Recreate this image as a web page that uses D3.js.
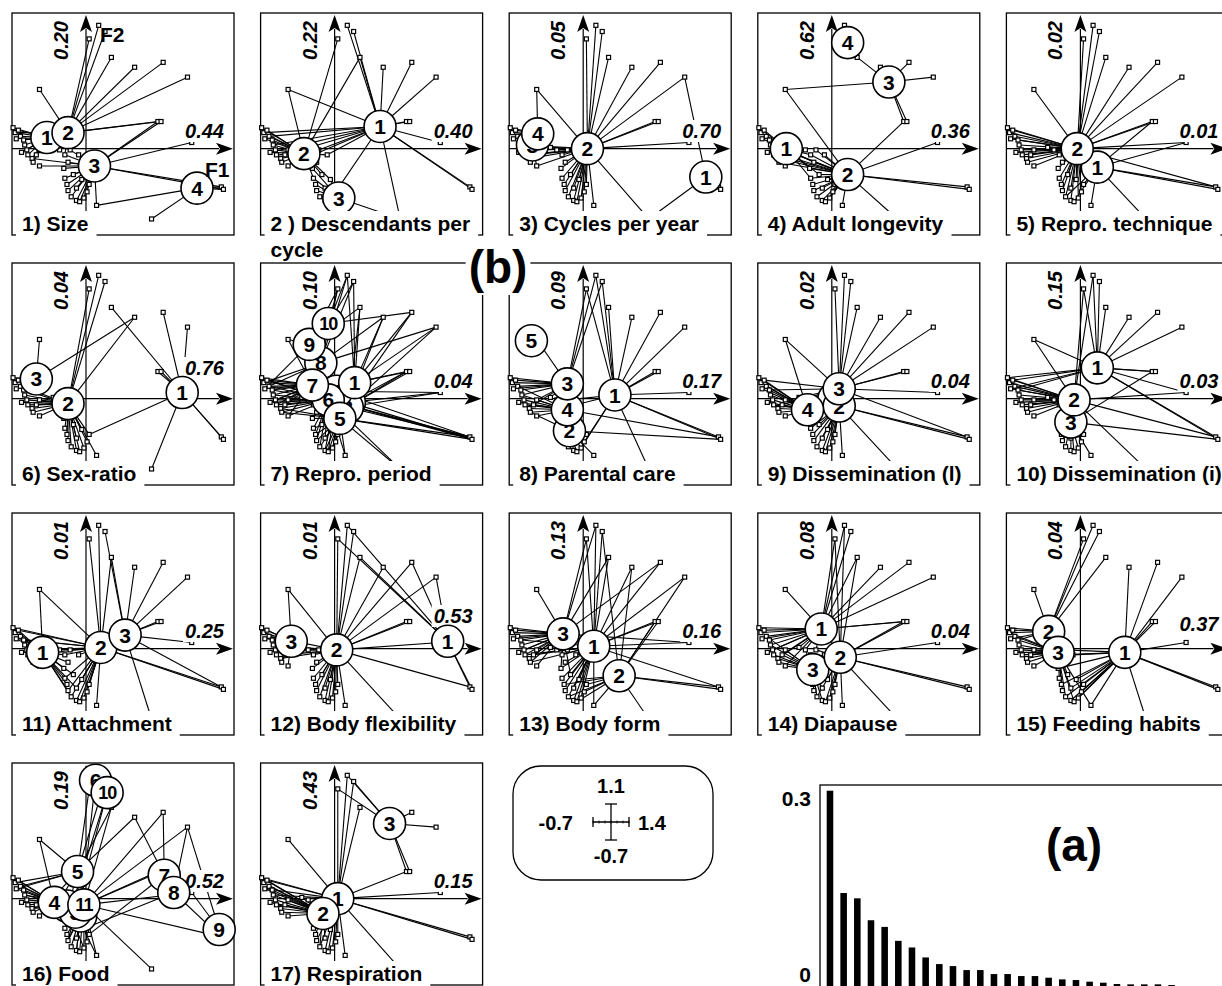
<!DOCTYPE html>
<html>
<head>
<meta charset="utf-8">
<title>Fuzzy correspondence analysis of biological traits</title>
<script src="https://cdn.jsdelivr.net/npm/d3@7/dist/d3.min.js"></script>
<style>
  html, body { margin: 0; padding: 0; background: #fff; }
  svg { display: block; }
  text { font-family: "Liberation Sans", Arial, Helvetica, sans-serif; fill: #000; }
</style>
</head>
<body>
<svg id="chart" width="1222" height="986"></svg>
<script>
// ---------------- DATA ----------------
// Taxa scores on F1 / F2 (same for every trait panel)
const taxaF1 = [0.03,0.12,0.18,0.24,0.46,0.73,0.96,-0.44,0.68,0.71,1.00,1.28,1.30,0.62,0.10,-0.44,
  -0.69,-0.67,-0.64,-0.62,-0.59,-0.58,-0.56,-0.55,-0.51,-0.50,-0.61,-0.66,-0.47,-0.44,
  -0.20,-0.17,-0.21,-0.20,-0.18,-0.17,-0.14,-0.09,-0.06,-0.02,0.01,0.03,-0.09,-0.04,-0.12,-0.15,-0.07,-0.25,-0.31];
const taxaF2 = [0.89,1.00,0.95,0.74,0.66,0.70,0.58,0.48,0.22,0.22,0.05,-0.31,-0.33,-0.57,-0.46,-0.14,
  0.17,0.13,0.15,0.10,0.07,0.03,-0.01,-0.05,-0.08,-0.11,-0.03,0.08,-0.05,-0.01,
  -0.05,-0.11,-0.16,-0.24,-0.29,-0.34,-0.39,-0.42,-0.43,-0.40,-0.35,-0.29,-0.32,-0.25,-0.21,-0.01,-0.05,-0.01,0.01];

const traitNames = ["1) Size", "2 ) Descendants per|cycle", "3) Cycles per year", "4) Adult longevity",
  "5) Repro. technique", "6) Sex-ratio", "7) Repro. period", "8) Parental care", "9) Dissemination (l)",
  "10) Dissemination (i)", "11) Attachment", "12) Body flexibility", "13) Body form", "14) Diapause",
  "15) Feeding habits", "16) Food", "17) Respiration"];
const eigF1 = ["0.44","0.40","0.70","0.36","0.01","0.76","0.04","0.17","0.04","0.03","0.25","0.53","0.16","0.04","0.37","0.52","0.15"];
const eigF2 = ["0.20","0.22","0.05","0.62","0.02","0.04","0.10","0.09","0.02","0.15","0.01","0.01","0.13","0.08","0.04","0.19","0.43"];

// Category centroids [label, F1, F2] (listed in drawing order)
const cats01 = [["1",-0.37,0.09],["2",-0.17,0.13],["3",0.08,-0.14],["4",1.05,-0.32]];
const cats02 = [["2",-0.29,-0.04],["3",0.04,-0.40],["1",0.43,0.18]];
const cats03 = [["3",-0.48,0.03],["4",-0.43,0.12],["2",0.04,0.0],["1",1.16,-0.23]];
const cats04 = [["1",-0.43,0.0],["2",0.15,-0.21],["3",0.54,0.54],["4",0.15,0.86]];
const cats05 = [["1",0.16,-0.15],["2",-0.03,0.0]];
const cats06 = [["3",-0.47,0.16],["2",-0.17,-0.04],["1",0.91,0.05]];
const cats07 = [["2",0.14,-0.03],["3",0.12,-0.07],["4",0.02,0.06],["6",-0.06,-0.01],["1",0.19,0.13],["5",0.05,-0.16],["8",-0.13,0.29],["7",-0.21,0.11],["9",-0.24,0.44],["10",-0.06,0.61]];
const cats08 = [["5",-0.49,0.47],["2",-0.13,-0.26],["4",-0.15,-0.09],["3",-0.15,0.12],["1",0.30,0.03]];
const cats09 = [["1",0.02,0.0],["2",0.07,-0.06],["4",-0.23,-0.09],["3",0.07,0.08]];
const cats10 = [["3",-0.09,-0.19],["2",-0.06,-0.01],["1",0.16,0.25]];
const cats11 = [["1",-0.41,-0.03],["2",0.14,0.01],["3",0.37,0.11]];
const cats12 = [["3",-0.41,0.06],["2",0.02,-0.01],["1",1.07,0.06]];
const cats13 = [["3",-0.19,0.12],["1",0.10,0.02],["2",0.34,-0.22]];
const cats14 = [["1",-0.10,0.16],["3",-0.18,-0.17],["2",0.08,-0.07]];
const cats15 = [["2",-0.30,0.14],["3",-0.21,-0.03],["1",0.42,-0.03]];
const cats16 = [["1",-0.05,-0.14],["2",-0.18,-0.06],["3",-0.10,-0.11],["4",-0.30,-0.03],["11",-0.02,-0.05],["5",-0.08,0.22],["6",0.09,0.96],["10",0.20,0.86],["7",0.74,0.19],["8",0.83,0.05],["9",1.26,-0.25]];
const cats17 = [["1",0.03,0.0],["2",-0.11,-0.12],["3",0.52,0.61]];

// Taxon -> category links, one token per taxon ("a+b" = several categories)
const links01 = "2 2 2 2 2 2 2 2 2+3 2+3 3 3+4 3+4 4 3+4 3 | 1 1+2 1 1 1+2 1 1 1 1+3 1 1 1 1+2 1+2 | 2+3 3 3 3 3 3 3 3 3 3 3 3 3 3 3 2+3 3 2 1+2";
const links02 = "2 1 1 1+2 1 1 1 1+2 1 1 1 1 1 1+3 3 2 | 2 2+1 2 2+1 2 2+1 2 2 2 2 2+1 2 2+1 2 | 2+1 2 2+3 2+3 3 3 3 3 3 3 3+1 3 3 2+3 2 2+1 2+1 2 2";
const links03 = "2 2 2 2 2 2 2+1 4+2 2 2 2 1 1 1+2 2 3+2 | 4 4 4 3+4 3 3+2 3 3+2 2 3 3 4 2 2 | 2 2 2 2 2 2 2 2 2 2 2 2 2 2 2 2 2 2 2+4";
const links04 = "4 4 4 4+3 3 3 3 3+2 3+2 3 2 2 2 2 2 1 | 1 1 1 1 1 1+2 1 1+2 1+2 1+2 1 1 1+2 1+2 | 2+1 2+1 2+1 2+1 2 2 2 2 2 2 2 2 2 2 2+1 2 2 1 1";
const links05 = "2 2 2 2 2 2 2 2 2+1 2 2+1 1+2 1 1 1 2 | 2 2 2 2 2 2 2 2 2 2 2 2 2 2 | 2 2 2 2 2 2 2+1 2 1 2 2 1 2 2 2 2 2 2 2";
const links06 = "2 2 2 1 2+3 1 1 3 1 1 1 1 1 1 2 2 | 3 3 3 3+2 2 2 2 2 2 2 2 3 2 2 | 2 2 2 2 2 2 2 2 2 2 2 2+1 2 2 2 2 2 2 2";
const links07 = "10+9+8 10+8+1 10+8+1 9+1+2 1+2+8 1+2+10 1+3+8 9+7 1+2+3 1+3 2+3+4 3+4+5+6 2+5+6 5+6 5+6 7+6 | 7+6 7+8 7+6 7+6+8 7+6 7+6 6+7 6+7 6+5 6+5 7+6 7+9 6+7 6+7 | 6+5 6+5 5+6 5+6 5+6 5+6 5+6 5+4 5+4 5+3 5+3 5+2 5+6 5+4 6+5 6+7 6+4 7+6 7+8";
const links08 = "3+1 3+1 3+1 1 1 1 1 5+3 1 1 1 1+4 1+2 1 2 4 | 3 3 3 3+4 3 3+4 4 4 4 4+2 4 3 4+3 4+3 | 4 4 2 2 2 2 2 2 2 2+1 2+1 2 2 2+4 2 4+1 4+1 4 3";
const links09 = "3 3 3 3 3 3 3 3+4 3 3 3 3+2 2 2 2 4 | 4 4 4+3 4 4+3 4 4 4 4 4 4 4 4+3 4 | 2 2 2+4 2 2 2 2 2 2 2 2 2 2 2 2 3+2 2+1 4+3 4+3";
const links10 = "1+2 1+2 1 1 1 1 1 1+2 1+3 1 1+2 1+2 1+3 2 3 2 | 2+1 2 2+1 2 2+1 2 2 2 2 2 2 2+1 2 2 | 2 3 3 3 3 3 3 3 3 3 3 3 3 3 3 2 2 2 2";
const links11 = "2 2 3 2+3 3 3 3 2+1 3 3 3 3+2 2 3 2 1 | 1+2 1 1+2 1 1+2 1 1 1+2 1 1 1 1+2 1 1+2 | 1+2 1 1 1+2 1 1+2 1+2 2 2 2 2 2 1+2 2 1 2 2 1+2 1";
const links12 = "2+1 2+1 2 2+1 2 2+1 2+1 3+2 2 2 1+2 1+2 1 2 2 3 | 3 3 3 3+2 3 3 3 3 3+2 3 3 3 3+2 3+2 | 2+3 2 2 2 2 2 2 2 2 2 2 2 2 2 2 2 2 2 2";
const links13 = "1+3 1+3 1+2 1+3 1+2 1+3 1+2 3 1+2 1+2 1+3 1+2 2 2 1+2 3 | 3 3 3 3 3+1 3 3 3+1 3 3+1 3 3 3+1 3 | 1+3 1 1+3 1 1+2 1 1+2 1 1+2 1 2 2 1 1+2 1+3 1+3 1 3 3";
const links14 = "1+2 1+2 1 1+2 1 1 1 1 1+2 1+2 2 2 2 2 2 1+3 | 1 1 1 1+3 1 1+3 1 3 1+3 3 1 1 1+3 3 | 2 3 3 3+2 3 3 3+2 3 2 2 2 2 3 2 3 1+2 2 1+3 1";
const links15 = "2 2 2 2 1 1 1 2 1 1 1 1 1 1 1+3 3 | 2 2+3 2 3 2+3 3 3 3 3 3 3 2 3 3 | 3+1 3 3+1 3 3+1 3 3+1 1 3+1 1 1 1 3+1 1 3 3+1 1 3 2";
const links16 = "6+5 6+10 10+5 10+5+11 5+7 7+11 8+9+11 5+4 11+7 11+8 11+9 9+11 9+8 11 11+3 4 | 4 4+5 4 4+5 4 4+11 4 4 4+11 4 4 4+5 4+11 4+11 | 11+3 11 3+11 1+11+10 11 1+11+10 11 1+6 11 11+2 11 11+7 11 11+8 3 11+5 11+5 4+5 4+5";
const links17 = "1+3 1+3 1+3 1 3 3 3 1 3+1 3 1 1 1 1 1 2 | 2+1 2 2+1 2 2 2+1 2 2 2 2 2 2+1 2 2 | 1 1+2 2 1 2 1 1+2 1 1 1 1 1 2 1 2 1 1 2 2";

// Eigenvalue scree plot (a)
const eigenvalues = [0.300,0.146,0.138,0.105,0.095,0.074,0.064,0.049,0.039,0.036,0.030,0.030,0.024,0.024,
  0.021,0.021,0.0185,0.016,0.015,0.0125,0.011,0.009,0.0085,0.0085,0.0085,0.0075];
const screeTicks = [0, 0.3];

// Scale legend values
const scaleLegend = { top: "1.1", bottom: "-0.7", left: "-0.7", right: "1.4" };

// ---------------- LAYOUT ----------------
const FONT = '"Liberation Sans", Arial, Helvetica, sans-serif';
const COL0 = 12, COLSTEP = 248.6, ROW0 = 13, ROWSTEP = 250, BOX = 222;
const f1LabelLift = { 5: 13, 11: 15, 14: 7 }; // panel index -> extra lift of the F1 eigenvalue label

const allCats = [cats01,cats02,cats03,cats04,cats05,cats06,cats07,cats08,cats09,cats10,cats11,cats12,cats13,cats14,cats15,cats16,cats17];
const allLinks = [links01,links02,links03,links04,links05,links06,links07,links08,links09,links10,links11,links12,links13,links14,links15,links16,links17];
const parseLinks = s => s.split(/\s+/).filter(t => t && t !== "|").map(t => t.split("+"));

const panels = traitNames.map((name, i) => ({
  name, e1: eigF1[i], e2: eigF2[i], cats: allCats[i], links: parseLinks(allLinks[i])
}));

const svg = d3.select("#chart");
svg.append("rect").attr("width", 1222).attr("height", 986).attr("fill", "#fff");

const fx = d3.scaleLinear().domain([-0.7, 1.4]).range([0, BOX]);
const fy = d3.scaleLinear().domain([-0.7, 1.1]).range([BOX, 0]);
const taxa = taxaF1.map((v, i) => ({ f1: v, f2: taxaF2[i] }));

function bgText(parent, str, opt) {
  const grp = parent.append("g");
  if (opt.transform) grp.attr("transform", opt.transform);
  const rect = grp.append("rect").attr("fill", "#fff");
  const t = grp.append("text")
    .attr("x", opt.x || 0).attr("y", opt.y || 0)
    .attr("text-anchor", opt.anchor || "start")
    .attr("font-size", opt.size)
    .attr("font-weight", opt.weight || "bold")
    .attr("font-style", opt.style || "normal")
    .style("font-family", FONT)
    .text(str);
  const b = t.node().getBBox();
  const p = opt.pad || [1, 2, 1, 2];
  rect.attr("x", b.x - p[3]).attr("y", b.y - p[0])
      .attr("width", b.width + p[1] + p[3]).attr("height", b.height + p[0] + p[2]);
  return { grp, rect, text: t, bbox: b };
}

panels.forEach((p, i) => {
  const col = i % 5, row = Math.floor(i / 5);
  const g = svg.append("g").attr("transform", `translate(${COL0 + col * COLSTEP},${ROW0 + row * ROWSTEP})`);
  const ox = fx(0), oy = fy(0);

  // frame
  g.append("rect").attr("width", BOX).attr("height", BOX)
    .attr("fill", "none").attr("stroke", "#000").attr("stroke-width", 1.3);

  // axes with arrows
  g.append("line").attr("x1", ox).attr("x2", ox).attr("y1", BOX).attr("y2", 16)
    .attr("stroke", "#000").attr("stroke-width", 1.2);
  g.append("line").attr("x1", 0).attr("x2", BOX - 15).attr("y1", oy).attr("y2", oy)
    .attr("stroke", "#000").attr("stroke-width", 1.2);
  g.append("path").attr("d", `M${ox},2 L${ox - 6},19 L${ox},15 L${ox + 6},19 Z`).attr("fill", "#000");
  g.append("path").attr("d", `M${BOX - 1},${oy} L${BOX - 18},${oy - 6} L${BOX - 14},${oy} L${BOX - 18},${oy + 6} Z`).attr("fill", "#000");

  // links taxon -> category centroid
  const catMap = new Map(p.cats.map(c => [c[0], c]));
  const segs = [];
  p.links.forEach((cs, t) => cs.forEach(c => {
    const cat = catMap.get(c);
    if (cat && taxa[t]) segs.push({ t: taxa[t], c: cat });
  }));
  g.append("g").selectAll("line").data(segs).join("line")
    .attr("x1", d => fx(d.t.f1)).attr("y1", d => fy(d.t.f2))
    .attr("x2", d => fx(d.c[1])).attr("y2", d => fy(d.c[2]))
    .attr("stroke", "#000").attr("stroke-width", 1.1);

  // taxa markers
  g.append("g").selectAll("rect").data(taxa).join("rect")
    .attr("x", d => fx(d.f1) - 2).attr("y", d => fy(d.f2) - 2)
    .attr("width", 4).attr("height", 4)
    .attr("fill", "#fff").attr("stroke", "#000").attr("stroke-width", 1.2);

  // eigenvalue labels
  bgText(g, p.e1, { x: 212, y: 125 - (f1LabelLift[i] || 0), anchor: "end", size: 20, style: "italic", pad: [0, 2, 0, 2] });
  bgText(g, p.e2, { transform: `translate(56,8) rotate(-90)`, anchor: "end", size: 20, style: "italic", pad: [0, 2, 0, 2] });

  // category circles
  const cg = g.append("g").selectAll("g").data(p.cats).join("g")
    .attr("transform", d => `translate(${fx(d[1])},${fy(d[2])})`);
  cg.append("circle").attr("r", 16).attr("fill", "#fff").attr("stroke", "#000").attr("stroke-width", 1.6);
  cg.append("text").attr("text-anchor", "middle").attr("dy", "0.36em")
    .attr("font-size", d => d[0].length > 1 ? 18 : 21)
    .attr("letter-spacing", d => d[0].length > 1 ? -1 : 0)
    .attr("font-weight", "bold").style("font-family", FONT)
    .text(d => d[0]);

  // title on the bottom border
  const lines = p.name.split("|");
  const tl = g.append("g");
  const tbg = tl.append("rect").attr("fill", "#fff");
  const tt = tl.append("text").attr("x", 10).attr("y", 218)
    .attr("font-size", 21).attr("font-weight", "bold").style("font-family", FONT).text(lines[0]);
  const tb = tt.node().getBBox();
  tbg.attr("x", 4).attr("y", tb.y - 1).attr("width", tb.x + tb.width + 8 - 4).attr("height", 226 - (tb.y - 1));
  if (lines[1]) {
    tl.append("text").attr("x", 10).attr("y", 244)
      .attr("font-size", 21).attr("font-weight", "bold").style("font-family", FONT).text(lines[1]);
  }

  if (i === 0) {
    g.append("text").attr("x", 88).attr("y", 29).attr("font-size", 21).attr("font-weight", "bold")
      .style("font-family", FONT).text("F2");
    g.append("text").attr("x", 193).attr("y", 164).attr("font-size", 21).attr("font-weight", "bold")
      .style("font-family", FONT).text("F1");
  }
});

// "(b)" label
bgText(svg, "(b)", { x: 498, y: 283, anchor: "middle", size: 46, pad: [0, 3, 2, 3] });

// ---------------- scale legend ----------------
const lg = svg.append("g");
lg.append("rect").attr("x", 513).attr("y", 766).attr("width", 200).attr("height", 114)
  .attr("rx", 28).attr("ry", 28).attr("fill", "#fff").attr("stroke", "#000").attr("stroke-width", 1.3);
const mx = d3.scaleLinear().domain([-0.7, 1.4]).range([593, 629]);
const my = d3.scaleLinear().domain([-0.7, 1.1]).range([840, 804]);
const cx = (mx(-0.7) + mx(1.4)) / 2, cy = (my(-0.7) + my(1.1)) / 2;
lg.append("line").attr("x1", mx(-0.7)).attr("x2", mx(1.4)).attr("y1", cy).attr("y2", cy).attr("stroke", "#000").attr("stroke-width", 1.3);
lg.append("line").attr("x1", cx).attr("x2", cx).attr("y1", my(-0.7)).attr("y2", my(1.1)).attr("stroke", "#000").attr("stroke-width", 1.3);
[[mx(-0.7), cy - 5, mx(-0.7), cy + 5], [mx(1.4), cy - 5, mx(1.4), cy + 5],
 [cx - 6, my(1.1), cx + 6, my(1.1)], [cx - 6, my(-0.7), cx + 6, my(-0.7)]].forEach(s =>
  lg.append("line").attr("x1", s[0]).attr("y1", s[1]).attr("x2", s[2]).attr("y2", s[3]).attr("stroke", "#000").attr("stroke-width", 1.3));
lg.selectAll("line.tick").data(d3.range(-0.7, 1.41, 0.35)).join("line").attr("class", "tick")
  .attr("x1", d => mx(d)).attr("x2", d => mx(d)).attr("y1", cy - 1.5).attr("y2", cy + 1.5)
  .attr("stroke", "#000").attr("stroke-width", 0.8);
const legText = (str, x, y, anchor) => lg.append("text").attr("x", x).attr("y", y).attr("text-anchor", anchor)
  .attr("font-size", 20).attr("font-weight", "bold").style("font-family", FONT).text(str);
legText(scaleLegend.top, cx, my(1.1) - 11, "middle");
legText(scaleLegend.bottom, cx, my(-0.7) + 23, "middle");
legText(scaleLegend.left, mx(-0.7) - 20, cy + 8, "end");
legText(scaleLegend.right, mx(1.4) + 9, cy + 8, "start");

// ---------------- scree plot (a) ----------------
const sg = svg.append("g");
const bx = d3.scaleBand().domain(d3.range(1, eigenvalues.length + 1)).range([819.6, 1182]).paddingInner(0.52).paddingOuter(0.52);
const by = d3.scaleLinear().domain([0, 0.3]).range([990, 790.7]);
sg.append("rect").attr("x", 820).attr("y", 785).attr("width", 500).attr("height", 300)
  .attr("fill", "none").attr("stroke", "#000").attr("stroke-width", 1.3);
sg.selectAll("rect.bar").data(eigenvalues).join("rect").attr("class", "bar")
  .attr("x", (d, i) => bx(i + 1)).attr("width", bx.bandwidth())
  .attr("y", d => by(d)).attr("height", d => by(0) - by(d)).attr("fill", "#000");
sg.selectAll("text.tick").data(screeTicks).join("text").attr("class", "tick")
  .attr("x", 811).attr("y", d => by(d))
  .attr("dy", d => d === 0 ? "-0.4em" : "0.72em")
  .attr("text-anchor", "end").attr("font-size", 21).attr("font-weight", "bold")
  .style("font-family", FONT).text(d => d === 0 ? "0" : d3.format(".1f")(d));
sg.append("text").attr("x", 1074).attr("y", 861).attr("text-anchor", "middle")
  .attr("font-size", 46).attr("font-weight", "bold").style("font-family", FONT).text("(a)");
</script>
</body>
</html>
